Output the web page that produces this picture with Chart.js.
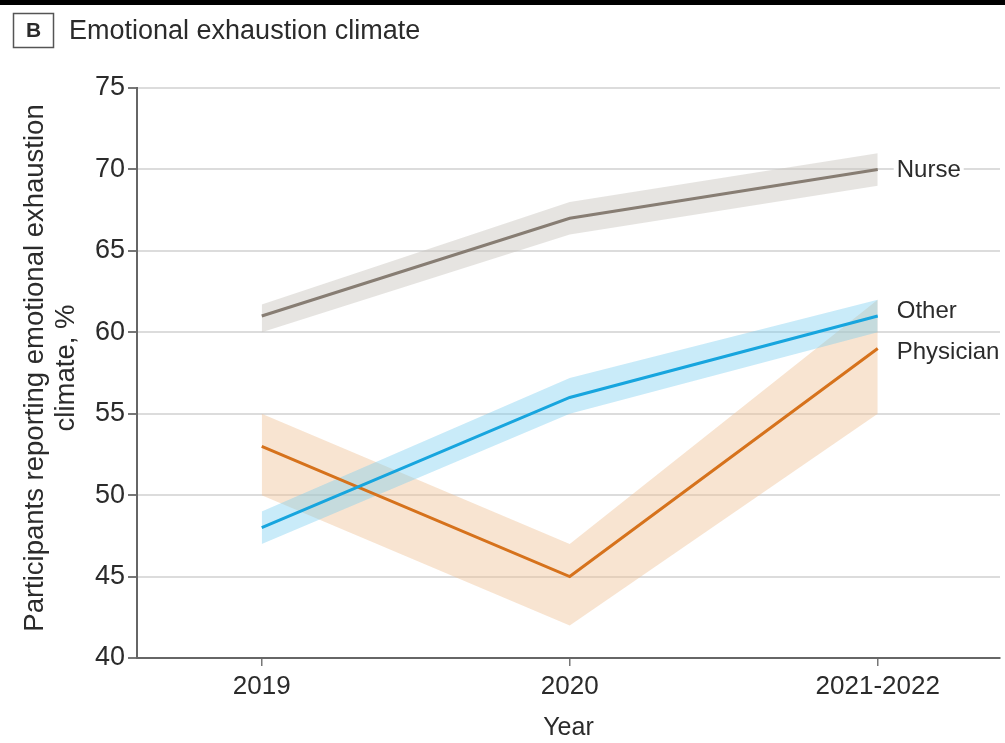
<!DOCTYPE html>
<html>
<head>
<meta charset="utf-8">
<script src="https://cdn.jsdelivr.net/npm/chart.js@4.4.1/dist/chart.umd.min.js"></script>
<style>
  html, body { margin: 0; padding: 0; background: #fff; }
  #wrap { width: 1005px; height: 743px; position: relative; }
</style>
</head>
<body>
<div id="wrap"><canvas id="myChart" width="1005" height="743"></canvas></div>
<script>
// categories and values
const years = ["2019", "2020", "2021-2022"];
const groups = ["Nurse", "Other", "Physician"];

const nurse = [61, 67, 70];
const nurseLow = [60, 66, 69];
const nurseHigh = [61.7, 68, 71];

const other = [48, 56, 61];
const otherLow = [47, 55, 60];
const otherHigh = [49, 57.2, 62];

const physician = [53, 45, 59];
const physicianLow = [50, 42, 55];
const physicianHigh = [55, 47, 62];

const yTicks = [40, 45, 50, 55, 60, 65, 70, 75];

const FONT = "'Liberation Sans', Arial, sans-serif";
const TEXT = '#2b2b2b';

function pts(arr) {
  return arr.map((v, i) => ({ x: i, y: v }));
}

function band(hi, lo, color) {
  return [
    { data: pts(hi), borderWidth: 0, pointRadius: 0, fill: '+1', backgroundColor: color, order: 5 },
    { data: pts(lo), borderWidth: 0, pointRadius: 0, fill: false, order: 5 }
  ];
}

function line(vals, color, name) {
  return { label: name, data: pts(vals), borderColor: color, borderWidth: 3, pointRadius: 0, fill: false, order: 1 };
}

// frame: top rule, panel letter, title, y-axis title, end labels
const decorations = {
  id: 'decorations',
  afterDraw(chart) {
    const ctx = chart.ctx;
    ctx.save();
    ctx.fillStyle = '#000';
    ctx.fillRect(0, 0, 1005, 5);

    ctx.strokeStyle = '#555';
    ctx.lineWidth = 1.5;
    ctx.strokeRect(13.5, 13.5, 40, 34);
    ctx.fillStyle = TEXT;
    ctx.font = "bold 21px " + FONT;
    ctx.textAlign = 'center';
    ctx.textBaseline = 'middle';
    ctx.fillText('B', 33.5, 31);

    ctx.font = "27px " + FONT;
    ctx.textAlign = 'left';
    ctx.fillText('Emotional exhaustion climate', 69, 32);

    ctx.font = "27.5px " + FONT;
    ctx.translate(50, 368);
    ctx.rotate(-Math.PI / 2);
    ctx.textAlign = 'center';
    ctx.fillText('Participants reporting emotional exhaustion', 0, -15);
    ctx.fillText('climate, %', 0, 16);
    ctx.restore();
  },
  afterDatasetsDraw(chart) {
    const ctx = chart.ctx;
    const xs = chart.scales.x, ys = chart.scales.y;
    const lastVals = [nurse[2], other[2], physician[2]];
    const shift = [0, -6, 3];
    ctx.save();
    ctx.font = "24px " + FONT;
    ctx.textAlign = 'left';
    ctx.textBaseline = 'middle';
    groups.forEach((g, i) => {
      const x = xs.getPixelForValue(2) + 19;
      const y = ys.getPixelForValue(lastVals[i]) + shift[i];
      const w = ctx.measureText(g).width;
      ctx.fillStyle = '#fff';
      ctx.fillRect(x - 3, y - 13, w + 6, 26);
      ctx.fillStyle = TEXT;
      ctx.fillText(g, x, y + 1);
    });
    ctx.restore();
  }
};

const ctx = document.getElementById('myChart').getContext('2d');
const chart = new Chart(ctx, {
  type: 'line',
  data: {
    datasets: [
      line(nurse, '#877d73', 'Nurse'),
      line(other, '#17a5de', 'Other'),
      line(physician, '#d6721c', 'Physician'),
      ...band(nurseHigh, nurseLow, 'rgba(200, 195, 188, 0.45)'),
      ...band(otherHigh, otherLow, 'rgba(120, 205, 240, 0.4)'),
      ...band(physicianHigh, physicianLow, 'rgba(238, 190, 145, 0.42)')
    ]
  },
  options: {
    responsive: false,
    animation: false,
    events: [],
    layout: { padding: { top: 88, right: 5, left: 0, bottom: 0 } },
    plugins: {
      legend: { display: false },
      tooltip: { enabled: false }
    },
    scales: {
      x: {
        type: 'linear',
        min: -0.405,
        max: 2.397,
        afterBuildTicks: (s) => { s.ticks = years.map((_, i) => ({ value: i })); },
        afterFit: (s) => { s.height = 85; },
        grid: { drawOnChartArea: false, drawTicks: true, tickLength: 8, tickColor: '#777', lineWidth: 1.5 },
        border: { display: true, color: '#666', width: 2 },
        ticks: {
          callback: (v) => years[v],
          font: { family: FONT, size: 26 },
          color: TEXT,
          padding: 5,
          maxRotation: 0
        },
        title: {
          display: true,
          text: 'Year',
          font: { family: FONT, size: 25 },
          color: TEXT,
          padding: { top: 8, bottom: 0 }
        }
      },
      y: {
        min: 40,
        max: 75,
        afterBuildTicks: (s) => { s.ticks = yTicks.map(v => ({ value: v })); },
        afterFit: (s) => { s.width = 137; },
        grid: { color: '#dcdcdc', lineWidth: 2, tickColor: '#777', tickLength: 9 },
        border: { display: true, color: '#666', width: 2 },
        ticks: {
          font: { family: FONT, size: 27 },
          color: TEXT,
          padding: 3
        }
      }
    }
  },
  plugins: [decorations]
});
</script>
</body>
</html>
